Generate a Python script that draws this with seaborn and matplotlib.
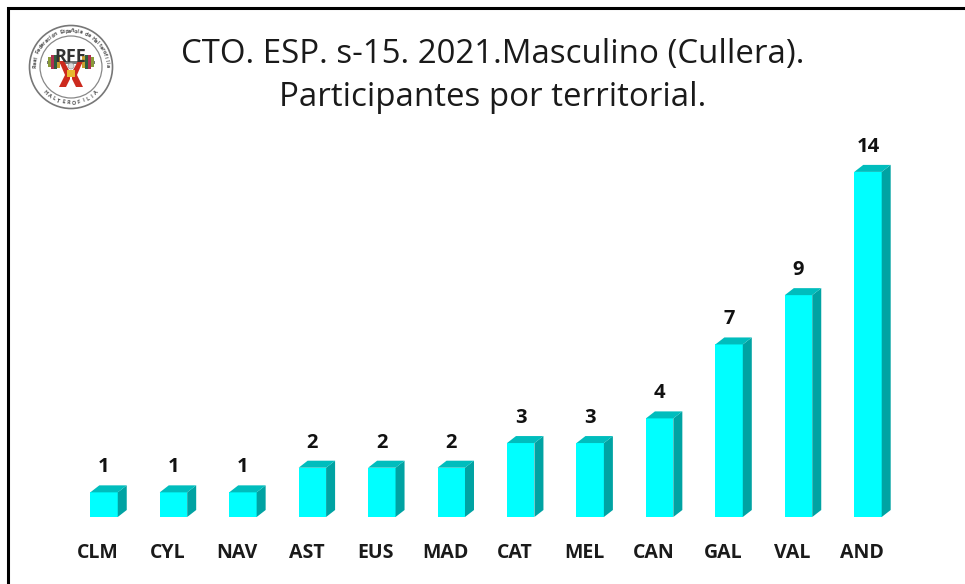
import numpy as np
import pandas as pd
import matplotlib
matplotlib.use("Agg")
import matplotlib.pyplot as plt
from matplotlib.patches import Circle, Polygon, Rectangle
from matplotlib.transforms import ScaledTranslation
import seaborn as sns

territories = ["CLM", "CYL", "NAV", "AST", "EUS", "MAD", "CAT", "MEL", "CAN", "GAL", "VAL", "AND"]
participants = [1, 1, 1, 2, 2, 2, 3, 3, 4, 7, 9, 14]
title_lines = ["CTO. ESP. s-15. 2021.Masculino (Cullera).", "Participantes por territorial."]
ring_top = "Real Federación Española de Halterofilia"
ring_bottom = "HALTEROFILIA"

W, H = 965, 584
FONT = "Open Sans"
sns.set_theme(style="white")
plt.rcParams["font.family"] = [FONT, "DejaVu Sans"]
fig = plt.figure(figsize=(W / 100, H / 100), dpi=100, facecolor="white")

# Main axes in pixel placement
left, right, bottom_y, unit = 69.3, 902.7, 517.0, 24.65
ymax = 15
ax = fig.add_axes([left / W, 1 - bottom_y / H, (right - left) / W, ymax * unit / H])
df = pd.DataFrame({"territorial": territories, "n": participants})
sns.barplot(data=df, x="territorial", y="n", order=territories, color="#00FFFF",
            saturation=1, width=0.395, ax=ax, zorder=3, linewidth=0)
ax.set_xlim(-0.5, len(territories) - 0.5)
ax.set_ylim(0, ymax)
ax.set_xlabel("")
ax.set_ylabel("")
ax.set_yticks([])
for s in ax.spines.values():
    s.set_visible(False)
ax.patch.set_alpha(0)

# 3D sides and tops, offset in pixels from each bar
for patch, v in zip(ax.patches, participants):
    x0, w = patch.get_x(), patch.get_width()
    x1 = x0 + w
    disp = ax.transData.transform
    inv = ax.transData.inverted().transform
    off = np.array([9, 7])
    top_right = inv(disp((x1, v)) + off)
    bot_right = inv(disp((x1, 0)) + off)
    top_left = inv(disp((x0, v)) + off)
    ax.add_patch(Polygon([(x1, 0), (x1, v), top_right, bot_right], closed=True,
                         fc="#00A3A3", ec="none", zorder=3, clip_on=False))
    ax.add_patch(Polygon([(x0, v), (x1, v), top_right, top_left], closed=True,
                         fc="#00BDBD", ec="none", zorder=3, clip_on=False))
    ax.annotate(str(v), (x0 + w / 2, v), xytext=(0, 25), textcoords="offset pixels",
                ha="center", va="center", fontsize=14.5, fontweight="bold", color="#111111",
                family=FONT, annotation_clip=False)

# Tick labels
ax.set_xticks(range(len(territories)))
ax.set_xticklabels(territories, fontsize=14, fontweight="bold", color="#1a1a1a")
ax.tick_params(axis="x", length=0, pad=0)
shift = ScaledTranslation(-6 / 100, -26 / 100, fig.dpi_scale_trans)
for lab in ax.get_xticklabels():
    lab.set_transform(lab.get_transform() + shift)

# Overlay in pixel coordinates
ov = fig.add_axes([0, 0, 1, 1], zorder=5)
ov.set_xlim(0, W)
ov.set_ylim(H, 0)
ov.axis("off")
ov.patch.set_alpha(0)

# Frame
ov.plot([8, 8, W + 2], [H + 2, 8, 8], color="black", lw=2.2, clip_on=False,
        solid_joinstyle="miter")

# Title
ov.text(493, 54, title_lines[0], ha="center", va="center", fontsize=23.8, color="#1a1a1a")
ov.text(493, 98, title_lines[1], ha="center", va="center", fontsize=23.8, color="#1a1a1a")

# Logo
cx, cy = 71, 67
ov.add_patch(Circle((cx, cy), 41.5, fc="white", ec="#777777", lw=1.2))
ov.add_patch(Circle((cx, cy), 31, fc="white", ec="#888888", lw=0.9))


def ring(text, start, end, radius, flip=False):
    for ch, a in zip(text, np.linspace(start, end, len(text))):
        rad = np.deg2rad(a)
        x, y = cx + radius * np.cos(rad), cy - radius * np.sin(rad)
        ov.text(x, y, ch, ha="center", va="center", fontsize=4, color="#555555",
                rotation=a + 90 if flip else a - 90, fontweight="bold")


ring(ring_top, 178, 2, 36)
ring(ring_bottom, 225, 315, 36, flip=True)

ov.add_patch(Rectangle((cx - 24, cy - 6), 48, 2.5, fc="#777777", ec="none"))
for px, pc, ph in [(-23, "#8a9a3a", 10), (-20, "#b03050", 14), (-17, "#2f5f3f", 14), (-14, "#c8a030", 12),
                   (11, "#c8a030", 12), (14, "#2f5f3f", 14), (17, "#b03050", 14), (20, "#8a9a3a", 10)]:
    ov.add_patch(Rectangle((cx + px, cy - 5 - ph / 2), 3, ph, fc=pc, ec="none"))
red = "#cc2a1e"
for pts in ([(-12, -6), (-7, -6), (-1, 5), (-1, 12), (-5, 20), (-12, 20), (-6, 8)],
            [(12, -6), (7, -6), (1, 5), (1, 12), (5, 20), (12, 20), (6, 8)]):
    ov.add_patch(Polygon([(cx + a, cy + b) for a, b in pts], closed=True, fc=red, ec="none"))
ov.add_patch(Rectangle((cx - 4, cy + 3), 8, 7, fc="#e8b830", ec="none"))
ov.add_patch(Circle((cx, cy - 1), 3, fc="#dddddd", ec="#999999", lw=0.5))
ov.text(cx - 1, cy - 10, "RFE", ha="center", va="center", fontsize=13, fontweight="bold", color="#333333")

fig.savefig("out.png", dpi=100, facecolor="white")
